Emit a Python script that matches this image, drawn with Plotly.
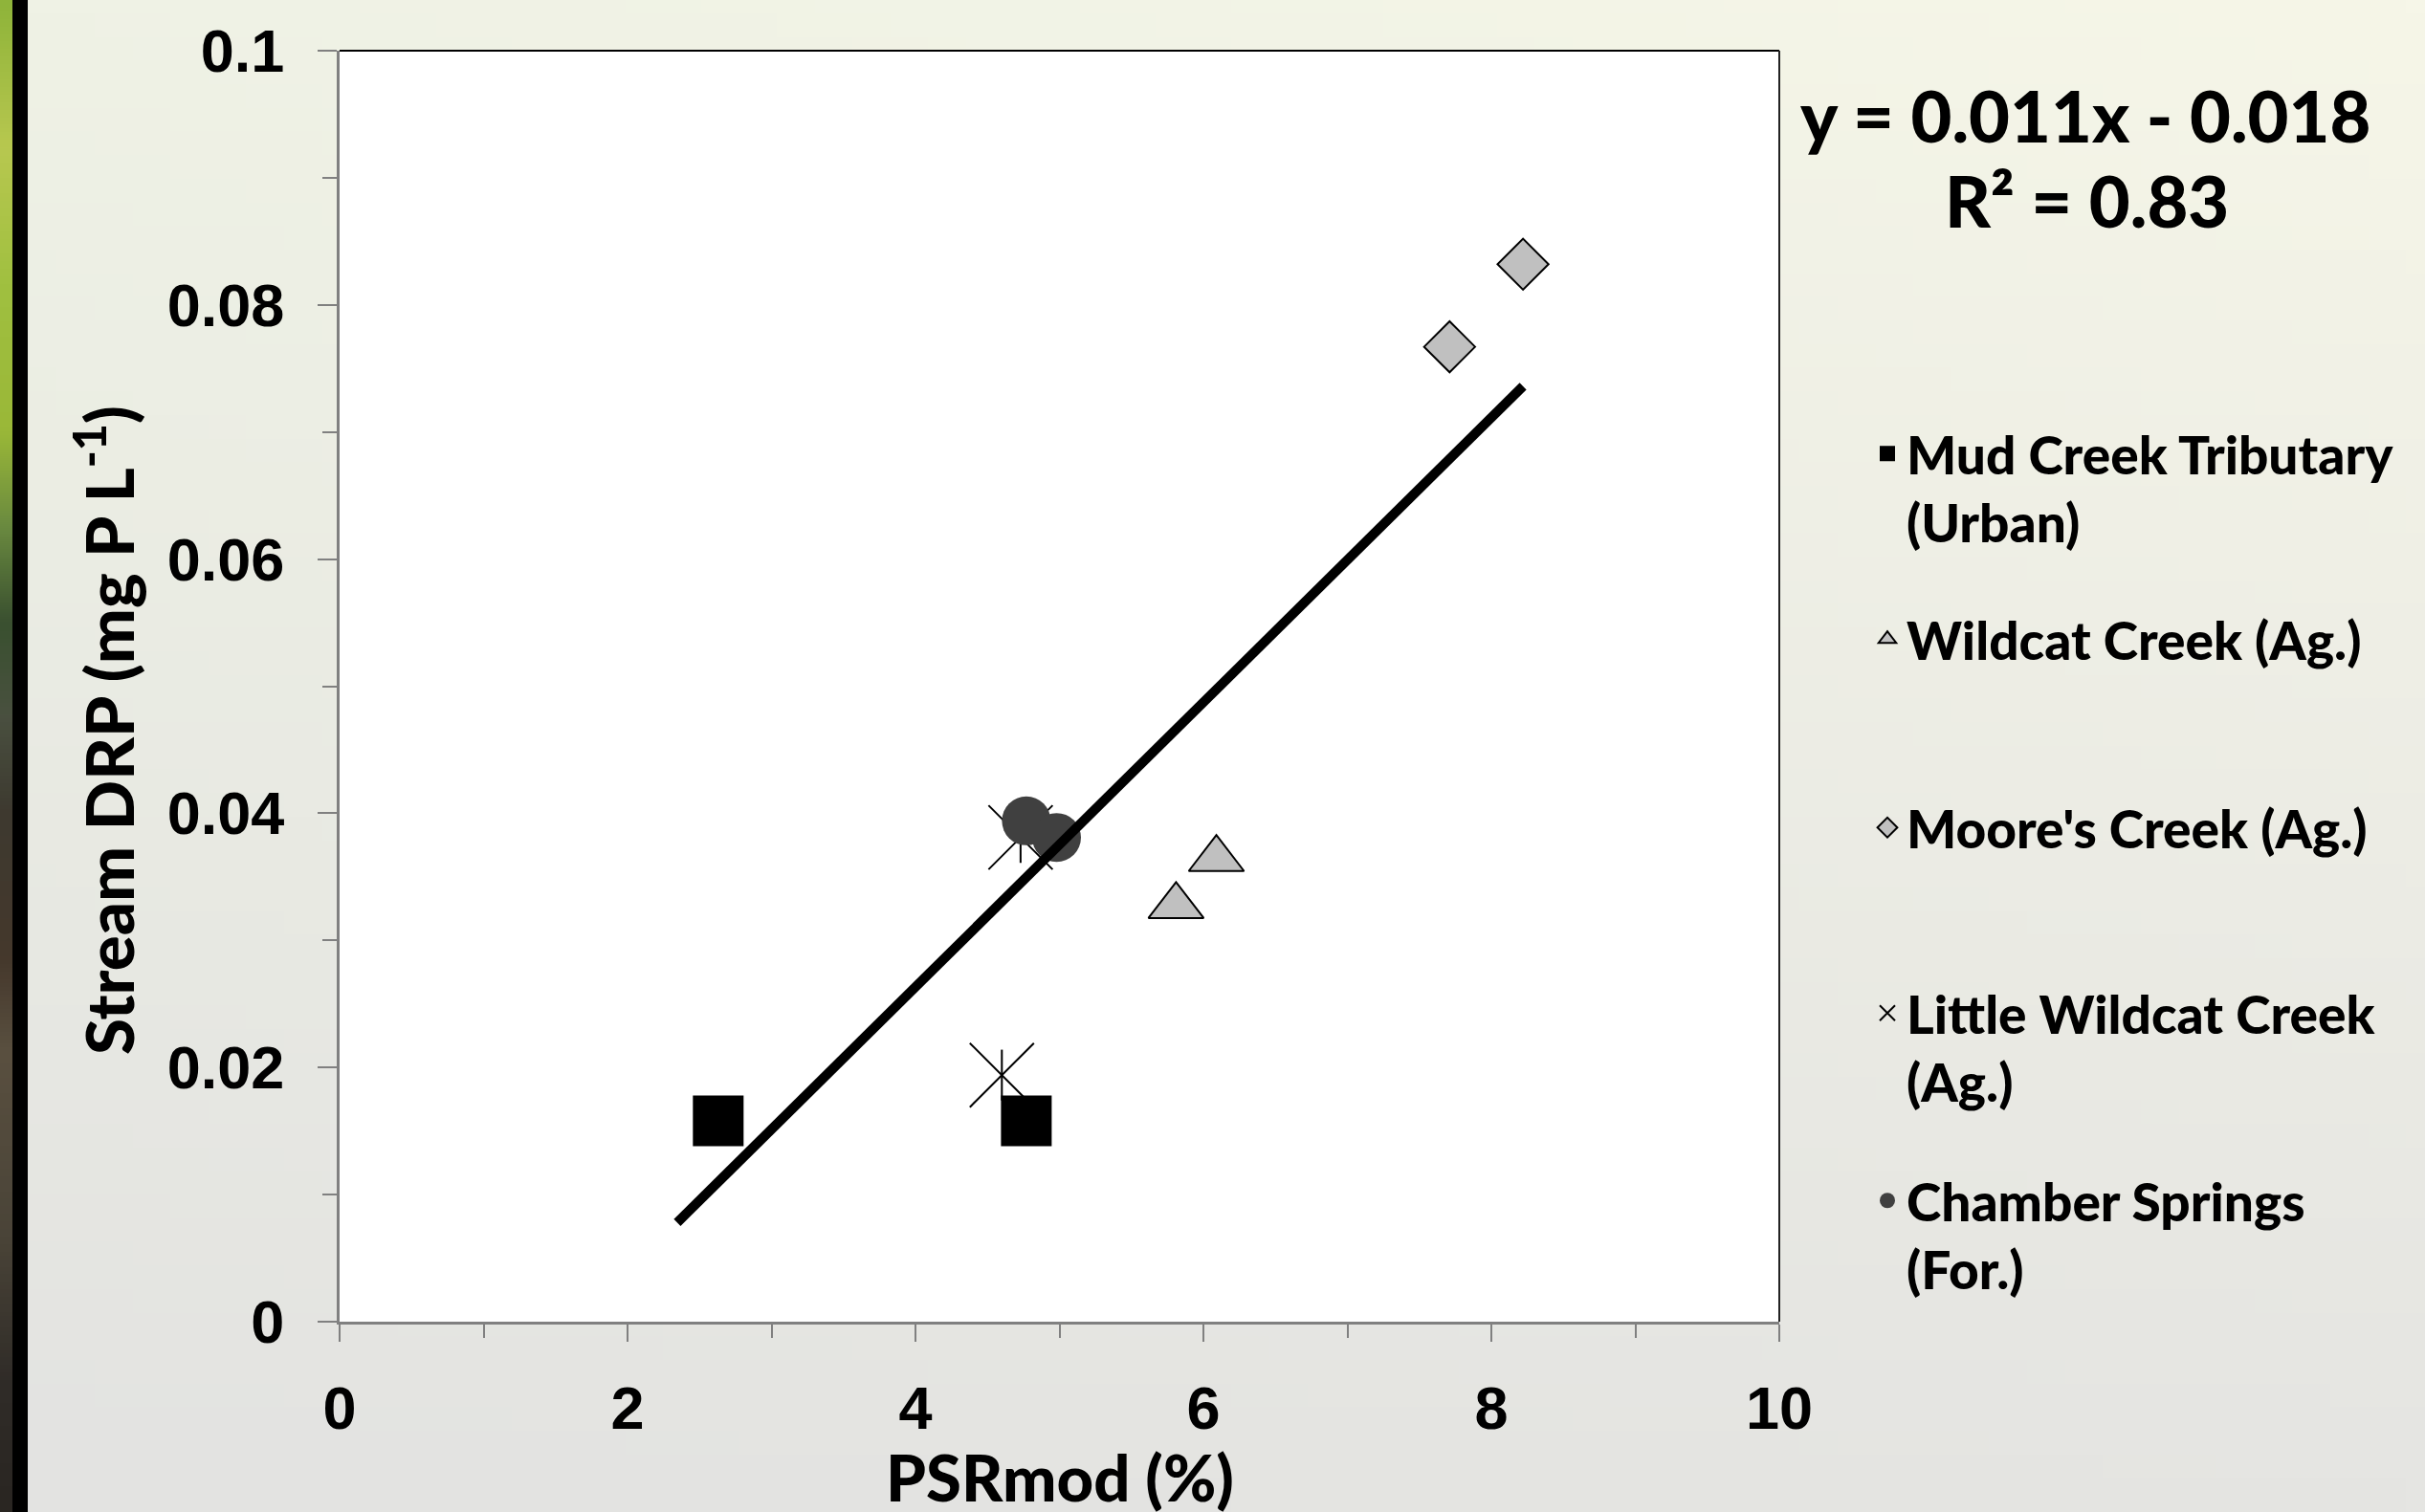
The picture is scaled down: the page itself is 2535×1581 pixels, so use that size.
import base64
import struct
import zlib

import numpy as np
import plotly.graph_objects as go

# ---------------- data ----------------
mud_x = [2.63, 4.77]
mud_y = [0.0158, 0.0158]
wildcat_x = [5.81, 6.09]
wildcat_y = [0.0327, 0.0364]
moore_x = [7.71, 8.22]
moore_y = [0.0767, 0.0832]
little_x = [4.60, 4.73]
little_y = [0.0194, 0.0381]
chamber_x = [4.77, 4.98]
chamber_y = [0.0394, 0.0381]

trend_x = [2.345, 8.22]
trend_y = [0.0078, 0.0736]

series_names = [
    "Mud Creek Tributary<br>(Urban)",
    "Wildcat Creek (Ag.)",
    "Moore's Creek (Ag.)",
    "Little Wildcat Creek<br>(Ag.)",
    "Chamber Springs<br>(For.)",
]
equation_text = "y = 0.011x - 0.018"
r2_text = "R² = 0.83"
x_title = "PSRmod (%)"
y_title = "Stream DRP (mg P L<sup>-1</sup>)"

x_tickvals = [0, 2, 4, 6, 8, 10]
x_ticktext = ["0", "2", "4", "6", "8", "10"]
y_tickvals = [0, 0.02, 0.04, 0.06, 0.08, 0.1]
y_ticktext = ["0", "0.02", "0.04", "0.06", "0.08", "0.1"]

# ---------------- page geometry ----------------
W, H = 2535, 1581
ML, MR, MT, MB = 355, 675, 53, 199
PW, PH = W - ML - MR, H - MT - MB


def px(xp):
    return (xp - ML) / PW


def py(yp):
    return (H - MB - yp) / PH


def png_uri(arr):
    h, w, _ = arr.shape
    raw = b"".join(b"\x00" + arr[i].tobytes() for i in range(h))

    def chunk(t, d):
        c = struct.pack(">I", len(d)) + t + d
        return c + struct.pack(">I", zlib.crc32(t + d) & 0xFFFFFFFF)

    data = (b"\x89PNG\r\n\x1a\n"
            + chunk(b"IHDR", struct.pack(">IIBBBBB", w, h, 8, 2, 0, 0, 0))
            + chunk(b"IDAT", zlib.compress(raw, 9))
            + chunk(b"IEND", b""))
    return "data:image/png;base64," + base64.b64encode(data).decode()


# background gradient (greenish top -> grey bottom)
gh, gw = 64, 64
tl = np.array([239, 242, 229.0]); tr = np.array([246, 246, 232.0])
bl = np.array([227, 227, 225.0]); br = np.array([229, 229, 226.0])
yy = np.linspace(0, 1, gh)[:, None, None]
xx = np.linspace(0, 1, gw)[None, :, None]
bg = (tl * (1 - xx) * (1 - yy) + tr * xx * (1 - yy) + bl * (1 - xx) * yy + br * xx * yy)
bg_uri = png_uri(np.clip(bg, 0, 255).astype(np.uint8))

# left decorative strip (foliage photo edge)
stops_y = [0, 150, 300, 450, 550, 650, 750, 850, 1000, 1100, 1300, 1450, 1581]
stops_c = [(143, 180, 58), (184, 200, 80), (160, 192, 64), (154, 184, 56), (106, 138, 64),
           (58, 80, 48), (74, 80, 64), (62, 58, 48), (69, 56, 44), (90, 80, 64),
           (74, 68, 56), (48, 44, 40), (42, 38, 34)]
sh = 200
ys = np.linspace(0, H, sh)
strip = np.zeros((sh, 1, 3))
for k in range(3):
    strip[:, 0, k] = np.interp(ys, stops_y, [c[k] for c in stops_c])
strip_uri = png_uri(strip.astype(np.uint8))

# ---------------- figure ----------------
fig = go.Figure()

fig.add_trace(go.Scatter(x=little_x, y=little_y, mode="markers", name=series_names[3],
                         legend="legend4",
                         marker=dict(symbol="x-thin-open", size=67, color="black",
                                     line=dict(width=2, color="black"))))
fig.add_trace(go.Scatter(x=little_x, y=little_y, mode="markers", name=series_names[3],
                         legend="legend4", showlegend=False, hoverinfo="skip",
                         marker=dict(symbol="line-ns-open", size=38, color="black",
                                     line=dict(width=2, color="black"))))
fig.add_trace(go.Scatter(x=mud_x, y=mud_y, mode="markers", name=series_names[0],
                         legend="legend",
                         marker=dict(symbol="square", size=53, color="black",
                                     line=dict(width=0))))
fig.add_trace(go.Scatter(x=wildcat_x, y=wildcat_y, mode="markers", name=series_names[1],
                         legend="legend2",
                         marker=dict(symbol="triangle-up", size=50, color="#c0c0c0",
                                     line=dict(width=2, color="black"))))
fig.add_trace(go.Scatter(x=moore_x, y=moore_y, mode="markers", name=series_names[2],
                         legend="legend3",
                         marker=dict(symbol="diamond", size=41, color="#c0c0c0",
                                     line=dict(width=2, color="black"))))
fig.add_trace(go.Scatter(x=chamber_x, y=chamber_y, mode="markers", name=series_names[4],
                         legend="legend5",
                         marker=dict(symbol="circle", size=51, color="#404040",
                                     line=dict(width=0))))
fig.add_trace(go.Scatter(x=trend_x, y=trend_y, mode="lines", showlegend=False,
                         line=dict(color="black", width=10), hoverinfo="skip"))

title_font = dict(family="Lato, Noto Sans, sans-serif", size=69, color="black", weight=900)
xtitle_font = dict(family="Lato, Noto Sans, sans-serif", size=67, color="black", weight=900)
tick_font = dict(family="Liberation Sans, Arial, sans-serif", size=63, color="black", weight="bold")
legend_font = dict(family="Lato, Noto Sans, sans-serif", size=55, color="black", weight=900)

fig.update_xaxes(range=[0, 10], tickmode="array", tickvals=x_tickvals, ticktext=x_ticktext,
                 ticks="outside", ticklen=18, tickwidth=2, tickcolor="#808080",
                 minor=dict(tickmode="linear", tick0=0, dtick=1, ticks="outside", ticklen=14,
                            tickwidth=2, tickcolor="#808080"),
                 showline=True, linecolor="#808080", linewidth=3, showgrid=False, zeroline=False,
                 tickfont=tick_font, ticklabelstandoff=15)
fig.update_yaxes(range=[0, 0.1], tickmode="array", tickvals=y_tickvals, ticktext=y_ticktext,
                 ticks="outside", ticklen=20, tickwidth=2, tickcolor="#808080",
                 minor=dict(tickmode="linear", tick0=0, dtick=0.01, ticks="outside", ticklen=15,
                            tickwidth=2, tickcolor="#808080"),
                 showline=True, linecolor="#808080", linewidth=3, showgrid=False, zeroline=False,
                 tickfont=tick_font, ticklabelstandoff=22)


def legend_box(top_px):
    return dict(x=px(1953), xanchor="left", y=py(top_px), yanchor="top",
                bgcolor="rgba(0,0,0,0)", borderwidth=0, valign="top",
                itemwidth=30, font=legend_font)


fig.update_layout(
    width=W, height=H,
    margin=dict(l=ML, r=MR, t=MT, b=MB, autoexpand=False),
    paper_bgcolor="#e9ebe4", plot_bgcolor="white",
    showlegend=True,
    legend=legend_box(432),
    legend2=legend_box(626),
    legend3=legend_box(823),
    legend4=legend_box(1017),
    legend5=legend_box(1213),
    images=[
        dict(source=bg_uri, xref="paper", yref="paper", x=px(0), y=py(0),
             sizex=W / PW, sizey=H / PH, xanchor="left", yanchor="top",
             sizing="stretch", layer="below"),
        dict(source=strip_uri, xref="paper", yref="paper", x=px(0), y=py(0),
             sizex=13 / PW, sizey=H / PH, xanchor="left", yanchor="top",
             sizing="stretch", layer="below"),
    ],
    shapes=[
        dict(type="rect", xref="paper", yref="paper", x0=px(13), x1=px(29), y0=py(H), y1=py(0),
             fillcolor="black", line=dict(width=0), layer="below"),
        dict(type="rect", xref="paper", yref="paper", x0=0, x1=1, y0=0, y1=1,
             fillcolor="white", line=dict(width=0), layer="below"),
        dict(type="line", xref="paper", yref="paper", x0=0, x1=1, y0=1, y1=1,
             line=dict(color="black", width=2)),
        dict(type="line", xref="paper", yref="paper", x0=1, x1=1, y0=0, y1=1,
             line=dict(color="#222222", width=2)),
    ],
    annotations=[
        dict(text=equation_text, xref="paper", yref="paper", x=px(2180), y=py(120),
             xanchor="center", yanchor="middle", showarrow=False,
             font=dict(family="Lato, Noto Sans, sans-serif", size=74, color="black", weight=900)),
        dict(text=r2_text, xref="paper", yref="paper", x=px(2181), y=py(209),
             xanchor="center", yanchor="middle", showarrow=False,
             font=dict(family="Lato, Noto Sans, sans-serif", size=74, color="black", weight=900)),
        dict(text=x_title, xref="paper", yref="paper", x=px(1108), y=py(1544),
             xanchor="center", yanchor="middle", showarrow=False, font=xtitle_font),
        dict(text=y_title, xref="paper", yref="paper", x=px(109), y=py(764),
             xanchor="center", yanchor="middle", showarrow=False, textangle=-90,
             font=title_font),
    ],
)

fig.write_html(
    "out.html",
    config={"displayModeBar": False},
    post_script="document.body.style.margin='0';document.body.style.overflow='hidden';",
)
